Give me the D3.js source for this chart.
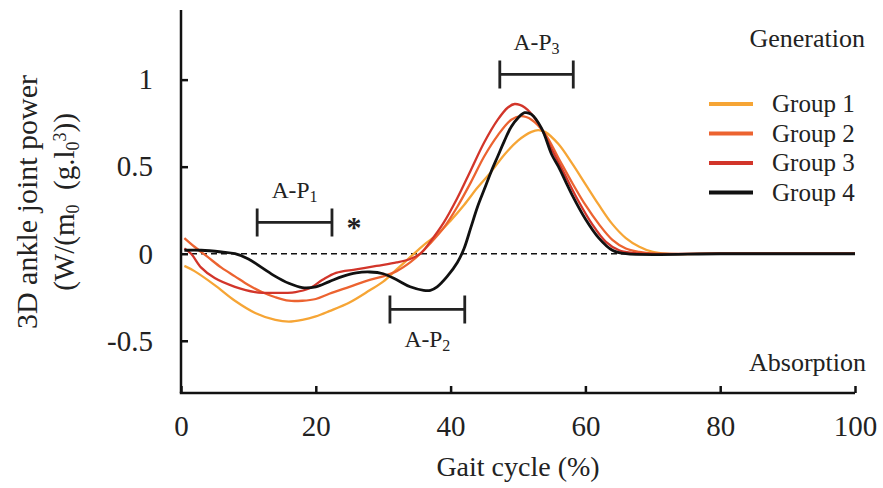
<!DOCTYPE html>
<html>
<head>
<meta charset="utf-8">
<script src="https://cdn.jsdelivr.net/npm/d3@7"></script>
<style>
  body { margin: 0; background: #fff; }
  svg { display: block; font-family: "Liberation Serif", "Times New Roman", serif; }
</style>
</head>
<body>
<div id="chart"></div>
<script>
// gait cycle (%) and power values
const group1X = [0.5, 2, 5, 8, 11, 14, 16, 18, 20, 22, 25, 28, 30, 32, 34, 36, 38, 40, 42, 44, 46, 48, 50, 52, 53, 54, 56, 58, 60, 62, 64, 66, 68, 70, 72, 80, 90, 100];
const group1Y = [-0.07, -0.10, -0.18, -0.27, -0.34, -0.38, -0.39, -0.38, -0.36, -0.33, -0.28, -0.21, -0.16, -0.09, -0.02, 0.05, 0.11, 0.19, 0.28, 0.38, 0.47, 0.57, 0.65, 0.70, 0.71, 0.70, 0.63, 0.52, 0.40, 0.28, 0.17, 0.09, 0.04, 0.01, 0, 0, 0, 0];

const group2X = [0.5, 2, 4, 6, 8, 10, 12, 14, 16, 18, 20, 22, 25, 28, 30, 32, 34, 35.5, 37, 39, 41, 43, 45, 47, 49, 50.5, 52, 54, 56, 58, 60, 62, 64, 66, 68, 70, 80, 90, 100];
const group2Y = [0.09, 0.04, -0.02, -0.08, -0.13, -0.18, -0.22, -0.25, -0.27, -0.27, -0.26, -0.23, -0.19, -0.15, -0.13, -0.10, -0.05, 0, 0.06, 0.15, 0.27, 0.41, 0.56, 0.68, 0.77, 0.79, 0.77, 0.69, 0.55, 0.41, 0.28, 0.17, 0.08, 0.03, 0.01, 0, 0, 0, 0];

const group3X = [0.5, 1.5, 3, 5, 8, 11, 14, 17, 19, 21, 23, 26, 29, 32, 34, 35.5, 37, 39, 41, 43, 45, 47, 48.5, 49.5, 51, 53, 55, 57, 59, 61, 63, 65, 67, 69, 80, 90, 100];
const group3Y = [0.03, 0.0, -0.08, -0.14, -0.19, -0.22, -0.225, -0.22, -0.20, -0.15, -0.11, -0.09, -0.07, -0.05, -0.03, 0, 0.07, 0.18, 0.32, 0.48, 0.64, 0.77, 0.84, 0.86, 0.84, 0.75, 0.60, 0.45, 0.30, 0.17, 0.07, 0.02, 0.005, 0, 0, 0, 0];

const group4X = [0.5, 3, 6, 8, 10, 12, 14, 16, 18, 20, 22, 24, 26, 28, 30, 32, 34, 36, 37, 38, 39.5, 41, 42, 43, 44, 45, 46, 47, 48, 49, 50, 51, 52, 53.5, 55, 56, 57, 58, 60, 62, 64, 66, 80, 90, 100];
const group4Y = [0.02, 0.02, 0.01, 0.0, -0.03, -0.08, -0.13, -0.17, -0.195, -0.19, -0.16, -0.13, -0.11, -0.105, -0.115, -0.15, -0.19, -0.21, -0.21, -0.19, -0.13, -0.05, 0.03, 0.15, 0.27, 0.37, 0.47, 0.56, 0.65, 0.73, 0.78, 0.81, 0.80, 0.72, 0.57, 0.50, 0.42, 0.34, 0.20, 0.09, 0.02, 0, 0, 0, 0];

const groupNames = ['Group 1', 'Group 2', 'Group 3', 'Group 4'];
const groupColors = ['#F6A535', '#EC6330', '#D2352A', '#111111'];

const xTicks = [0, 20, 40, 60, 80, 100];
const yTicks = [-0.5, 0, 0.5, 1];

// phase brackets
const phaseLabels = ['A-P', 'A-P', 'A-P'];
const phaseSubs = ['1', '2', '3'];
const phaseStart = [11.3, 31.0, 47.3];
const phaseEnd = [22.4, 42.1, 58.2];
const phaseLevel = [0.18, -0.32, 1.03];

const W = 883, H = 488;
const svg = d3.select('#chart').append('svg')
  .attr('width', W)
  .attr('height', H);

const x = d3.scaleLinear().domain([0, 100]).range([181, 855]);
const y = d3.scaleLinear().domain([-0.8, 1.4]).range([393, 10]);

const series = [
  { x: group1X, y: group1Y },
  { x: group2X, y: group2Y },
  { x: group3X, y: group3Y },
  { x: group4X, y: group4Y }
].map((s, i) => ({
  name: groupNames[i],
  color: groupColors[i],
  points: s.x.map((v, j) => [v, s.y[j]])
}));

// zero reference line
svg.append('line')
  .attr('x1', x(0)).attr('x2', x(100))
  .attr('y1', y(0)).attr('y2', y(0))
  .attr('stroke', '#111')
  .attr('stroke-width', 1.6)
  .attr('stroke-dasharray', '6,4');

const line = d3.line()
  .x(d => x(d[0]))
  .y(d => y(d[1]))
  .curve(d3.curveCatmullRom.alpha(0.5));

svg.append('g')
  .selectAll('path')
  .data(series)
  .join('path')
  .attr('d', d => line(d.points))
  .attr('fill', 'none')
  .attr('stroke', d => d.color)
  .attr('stroke-width', (d, i) => i === 3 ? 2.8 : 2.3)
  .attr('stroke-linejoin', 'round');

// axes, ticks pointing inward
const xAxis = svg.append('g')
  .attr('transform', `translate(0,${y(-0.8)})`)
  .call(d3.axisBottom(x).tickValues(xTicks).tickSizeInner(-7).tickSizeOuter(0).tickPadding(22));
const yAxis = svg.append('g')
  .attr('transform', `translate(${x(0)},0)`)
  .call(d3.axisLeft(y).tickValues(yTicks).tickSizeInner(-7).tickSizeOuter(0).tickPadding(28)
    .tickFormat(d => d));

[xAxis, yAxis].forEach(ax => {
  ax.select('.domain').attr('stroke', '#111').attr('stroke-width', 2.5);
  ax.selectAll('.tick line').attr('stroke', '#111').attr('stroke-width', 2.5);
  ax.selectAll('.tick text')
    .attr('fill', '#222')
    .style('font-family', '"Liberation Serif", serif')
    .style('font-size', '29px');
});
yAxis.select('.domain').attr('d', `M0,${y(1.4)}V${y(-0.8)}`);
xAxis.select('.domain').attr('d', `M${x(0) - 1.2},0H${x(100)}`);

// axis titles
svg.append('text')
  .attr('x', 518).attr('y', 476)
  .attr('text-anchor', 'middle')
  .attr('fill', '#222')
  .style('font-size', '28px')
  .text('Gait cycle (%)');

const yTitle = svg.append('g')
  .attr('transform', 'translate(0,202) rotate(-90)');
yTitle.append('text')
  .attr('x', 0).attr('y', 37)
  .attr('text-anchor', 'middle')
  .attr('fill', '#222')
  .style('font-size', '30px')
  .text('3D ankle joint power');
const t2 = yTitle.append('text')
  .attr('x', 0).attr('y', 74)
  .attr('text-anchor', 'middle')
  .attr('fill', '#222')
  .style('font-size', '29px');
t2.append('tspan').text('(W/(m');
t2.append('tspan').attr('baseline-shift', '-25%').style('font-size', '18px').text('0');
t2.append('tspan').text('\u00a0\u00a0(g.l');
t2.append('tspan').attr('baseline-shift', '-25%').style('font-size', '18px').text('0');
t2.append('tspan').attr('baseline-shift', '45%').style('font-size', '18px').text('3');
t2.append('tspan').text('))');

// generation / absorption labels
svg.append('text')
  .attr('x', 865).attr('y', 47)
  .attr('text-anchor', 'end')
  .attr('fill', '#222')
  .style('font-size', '26px')
  .text('Generation');
svg.append('text')
  .attr('x', 866).attr('y', 371)
  .attr('text-anchor', 'end')
  .attr('fill', '#222')
  .style('font-size', '26px')
  .text('Absorption');

// legend
const legend = svg.append('g')
  .selectAll('g')
  .data(series)
  .join('g')
  .attr('transform', (d, i) => `translate(709,${104 + i * 29.5})`);
legend.append('line')
  .attr('x1', 0).attr('x2', 44)
  .attr('stroke', d => d.color)
  .attr('stroke-width', 4);
legend.append('text')
  .attr('x', 63).attr('y', 8)
  .attr('fill', '#222')
  .style('font-size', '25px')
  .text(d => d.name);

// phase brackets
const phases = phaseLabels.map((l, i) => ({
  label: l, sub: phaseSubs[i], x0: phaseStart[i], x1: phaseEnd[i], lv: phaseLevel[i]
}));
const ph = svg.append('g')
  .selectAll('g')
  .data(phases)
  .join('g');
ph.append('path')
  .attr('d', d => `M${x(d.x0)},${y(d.lv) - 14}V${y(d.lv) + 14}M${x(d.x0)},${y(d.lv)}H${x(d.x1)}M${x(d.x1)},${y(d.lv) - 14}V${y(d.lv) + 14}`)
  .attr('fill', 'none')
  .attr('stroke', '#222')
  .attr('stroke-width', 2.8);
const phText = ph.append('text')
  .attr('x', d => x((d.x0 + d.x1) / 2))
  .attr('y', d => d.lv < 0 ? y(d.lv) + 38 : y(d.lv) - 24)
  .attr('text-anchor', 'middle')
  .attr('fill', '#222')
  .style('font-size', '23.5px');
phText.append('tspan').text(d => d.label);
phText.append('tspan').attr('baseline-shift', '-25%').style('font-size', '16px').text(d => d.sub);

// significance star next to A-P1
svg.append('text')
  .attr('x', x(phaseEnd[0]) + 22).attr('y', y(phaseLevel[0]) + 15)
  .attr('text-anchor', 'middle')
  .attr('fill', '#222')
  .style('font-size', '30px')
  .style('font-weight', 'bold')
  .text('*');
</script>
</body>
</html>
